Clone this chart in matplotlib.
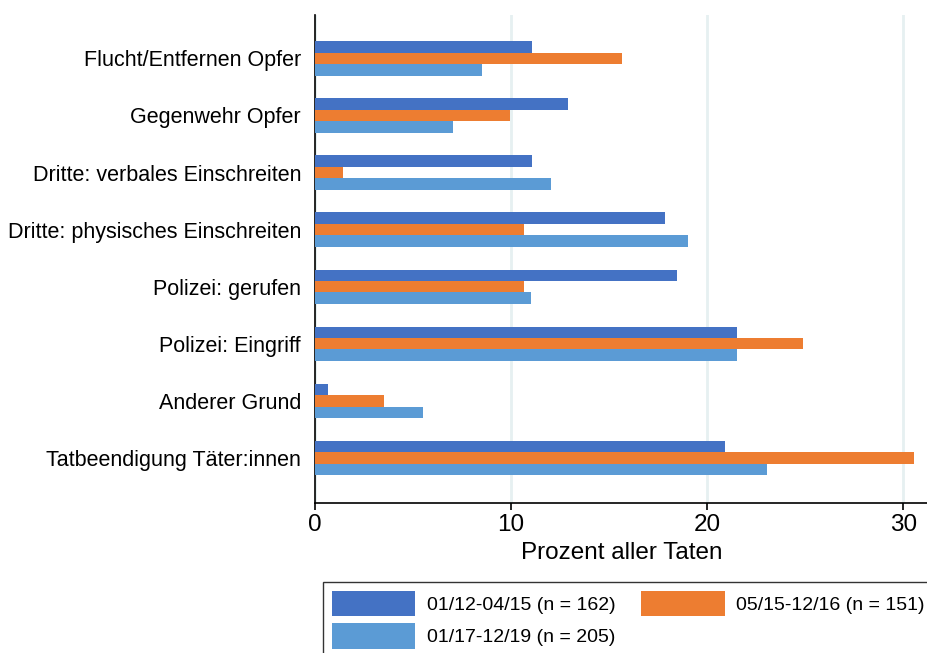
import numpy as np
import matplotlib.pyplot as plt
from matplotlib.patches import Patch

plt.rcParams['font.family'] = ['Liberation Sans', 'DejaVu Sans']

# ---------------------------------------------------------------------------
# Daten (Prozent aller Taten)
# ---------------------------------------------------------------------------
categories = [
    "Flucht/Entfernen Opfer",
    "Gegenwehr Opfer",
    "Dritte: verbales Einschreiten",
    "Dritte: physisches Einschreiten",
    "Polizei: gerufen",
    "Polizei: Eingriff",
    "Anderer Grund",
    "Tatbeendigung Täter:innen",
]
series_labels = [
    "01/12-04/15 (n = 162)",
    "05/15-12/16 (n = 151)",
    "01/17-12/19 (n = 205)",
]
period_1 = [11.05, 12.9, 11.05, 17.85, 18.45, 21.5, 0.64, 20.9]
period_2 = [15.65, 9.92, 1.41, 10.64, 10.64, 24.87, 3.54, 30.52]
period_3 = [8.49, 7.02, 12.01, 19.01, 11.0, 21.5, 5.49, 23.04]
colors = ["#4472C4", "#ED7D31", "#5B9BD5"]

fig = plt.figure(figsize=(9.28, 6.53), dpi=100)
ax = fig.add_axes([315 / 928, 1 - 503 / 653, 613 / 928, 488 / 653])

y = np.arange(len(categories))
h = 0.2
for i, vals in enumerate([period_1, period_2, period_3]):
    ax.barh(y + (i - 1) * h, vals, height=h, color=colors[i], zorder=3)

ax.set_xlim(0, 31.25)
ax.set_ylim(7.79, -0.76)
ax.set_yticks(y)
ax.set_yticklabels(categories, fontsize=15.5)
ax.tick_params(axis='y', length=0, pad=10)
ax.set_xticks([0, 10, 20, 30])
ax.tick_params(axis='x', labelsize=17.5, length=5, width=1.2, pad=3)
ax.set_xlabel("Prozent aller Taten", fontsize=17.5, labelpad=4)

ax.grid(axis='x', color='#e6f0f1', linewidth=2, zorder=0)
for side in ['top', 'right']:
    ax.spines[side].set_visible(False)
for side in ['left', 'bottom']:
    ax.spines[side].set_linewidth(1.2)

handles = [Patch(facecolor=c) for c in colors]
order = [0, 2, 1]
leg = fig.legend(
    [handles[k] for k in order], [series_labels[k] for k in order],
    ncol=2, loc='upper left', bbox_to_anchor=(323 / 928, 1 - 582 / 653),
    borderaxespad=0, fontsize=14, frameon=True, fancybox=False,
    edgecolor='black', handlelength=4.3, handleheight=1.65,
    columnspacing=1.3, handletextpad=0.6, labelspacing=0.35, borderpad=0.45,
)
leg.get_frame().set_linewidth(1.0)

fig.savefig("out.png", dpi=100)
